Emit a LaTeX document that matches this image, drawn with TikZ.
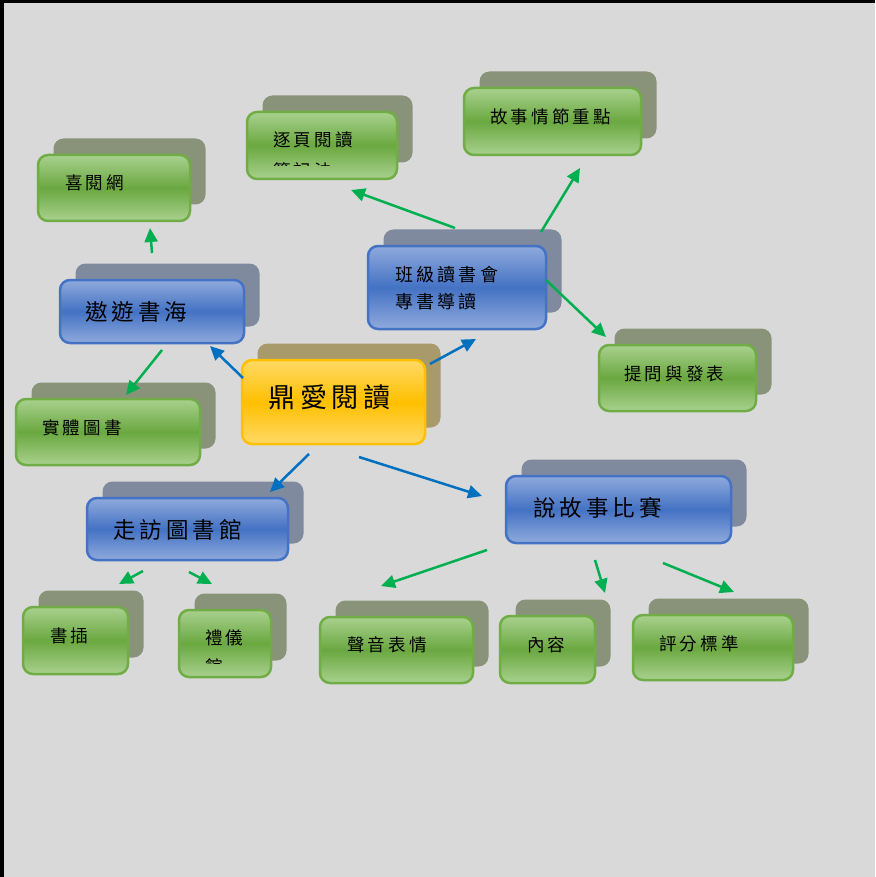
\documentclass[tikz,border=0pt]{standalone}
\usepackage{fontspec}
\usetikzlibrary{arrows.meta}
\newfontfamily\cjk[LetterSpace=18]{Noto Sans CJK TC}
\definecolor{bg}{HTML}{D9D9D9}
\definecolor{glight}{HTML}{A9D18E}
\definecolor{gdark}{HTML}{6AA840}
\definecolor{gborder}{HTML}{70AD47}
\definecolor{blight}{HTML}{8FAADC}
\definecolor{bdark}{HTML}{4472C4}
\definecolor{bborder}{HTML}{4472C4}
\definecolor{ylight}{HTML}{FFD966}
\definecolor{ydark}{HTML}{FFC000}
\definecolor{yborder}{HTML}{FFC000}
\definecolor{gshadow}{HTML}{88937A}
\definecolor{bshadow}{HTML}{7F8A9E}
\definecolor{yshadow}{HTML}{A89A6B}
\definecolor{garrow}{HTML}{00B050}
\definecolor{barrow}{HTML}{0070C0}
\tikzset{
  boxbase/.style={rounded corners=10pt, line width=2.5pt, inner sep=0pt},
  gbox/.style={boxbase, draw=gborder, top color=glight, bottom color=glight, middle color=gdark},
  bbox/.style={boxbase, draw=bborder, top color=blight, bottom color=blight, middle color=bdark},
  ybox/.style={boxbase, draw=yborder, top color=ylight, bottom color=ylight, middle color=ydark},
  gshad/.style={rounded corners=10pt, fill=gshadow, inner sep=0pt},
  bshad/.style={rounded corners=10pt, fill=bshadow, inner sep=0pt},
  yshad/.style={rounded corners=10pt, fill=yshadow, inner sep=0pt},
  small/.style={anchor=west, inner sep=0pt, font=\cjk\fontsize{17.5}{20}\selectfont},
  mid/.style={anchor=west, inner sep=0pt, font=\cjk\fontsize{18}{21}\selectfont},
  big/.style={anchor=west, inner sep=0pt, font=\cjk\fontsize{22.5}{26}\selectfont},
  huge/.style={anchor=west, inner sep=0pt, font=\cjk\fontsize{27}{30}\selectfont},
  garr/.style={draw=garrow, line width=2.5pt, -{Triangle[length=14pt,width=13pt]}},
  barr/.style={draw=barrow, line width=2.5pt, -{Triangle[length=14pt,width=13pt]}},
}
\newcommand\mkbox[6]{%
  \node[#2shad, minimum width={#5-#3}, minimum height={#6-#4}] (#1s) at ({(#3+#5)/2+15.5},{(#4+#6)/2-16.5}) {};
  \node[#2box, minimum width={#5-#3}, minimum height={#6-#4}] (#1) at ({(#3+#5)/2},{(#4+#6)/2}) {};
}
\begin{document}
\begin{tikzpicture}[x=1pt,y=-1pt]
\useasboundingbox (0,0) rectangle (875,877);
\fill[bg] (0,0) rectangle (875,877);
\fill[black] (0,0) rectangle (875,3);
\fill[black] (0,0) rectangle (4,877);

% boxes
\mkbox{hy}{g}{38}{155}{190}{221}
\mkbox{zy}{g}{247}{112}{397}{179}
\mkbox{gs}{g}{464}{88}{641}{155}
\mkbox{ay}{b}{60}{280}{244}{343}
\mkbox{bj}{b}{368}{246}{546}{329}
\mkbox{tw}{g}{599}{345}{756}{411}
\mkbox{st}{g}{16}{399}{200}{465}
\mkbox{da}{y}{242}{360}{425}{444}
\mkbox{zf}{b}{87}{498}{288}{560}
\mkbox{sg}{b}{506}{476}{731}{543}
\mkbox{sc}{g}{23}{607}{128}{674}
\mkbox{ly}{g}{179}{610}{271}{677}
\mkbox{sy}{g}{320}{617}{473}{683}
\mkbox{nr}{g}{500}{616}{595}{683}
\mkbox{pf}{g}{633}{615}{793}{680}

% texts
\node[small] (hyt) at (65,183) {喜閱網};
\node[small] (zyt) at (273,140) {逐頁閱讀};
\begin{scope}
  \clip (250,150) rectangle (395,166);
  \node[small] (zyt2) at (273,171) {筆記法};
\end{scope}
\node[small] (gst) at (490,117) {故事情節重點};
\node[big] (ayt) at (85,312) {遨遊書海};
\node[mid] (bjt) at (395,275) {班級讀書會};
\node[mid] (bjt2) at (395,302) {專書導讀};
\node[small] (twt) at (624,374) {提問與發表};
\node[small] (stt) at (42,428) {實體圖書};
\node[huge] (dat) at (268,397) {鼎愛閱讀};
\node[big] (zft) at (113,530) {走訪圖書館};
\node[big] (sgt) at (533,508) {說故事比賽};
\node[small] (sct) at (50,636) {書插};
\node[small] (lyt) at (205,638) {禮儀};
\begin{scope}
  \clip (182,650) rectangle (268,663);
  \node[small] (lyt2) at (205,667) {館};
\end{scope}
\node[small] (syt) at (347,645) {聲音表情};
\node[small] (nrt) at (527,645) {內容};
\node[small] (pft) at (659,644) {評分標準};

% arrow endpoints
\coordinate (a1s) at (152,253); \coordinate (a1e) at (150,228);
\coordinate (a2s) at (162,350); \coordinate (a2e) at (126,395);
\coordinate (a3s) at (455,228); \coordinate (a3e) at (351,190);
\coordinate (a4s) at (541,232); \coordinate (a4e) at (580,168);
\coordinate (a5s) at (546,280); \coordinate (a5e) at (606,337);
\coordinate (b1s) at (243,378); \coordinate (b1e) at (210,346);
\coordinate (b2s) at (430,364); \coordinate (b2e) at (476,339);
\coordinate (b3s) at (309,454); \coordinate (b3e) at (270,492);
\coordinate (b4s) at (359,457); \coordinate (b4e) at (482,496);
\coordinate (c1s) at (143,571); \coordinate (c1e) at (119,584);
\coordinate (c2s) at (189,572); \coordinate (c2e) at (212,584);
\coordinate (c3s) at (487,550); \coordinate (c3e) at (381,586);
\coordinate (c4s) at (595,560); \coordinate (c4e) at (605,593);
\coordinate (c5s) at (663,563); \coordinate (c5e) at (734,592);

\draw[garr] (a1s) -- (a1e);
\draw[garr] (a2s) -- (a2e);
\draw[garr] (a3s) -- (a3e);
\draw[garr] (a4s) -- (a4e);
\draw[garr] (a5s) -- (a5e);
\draw[barr] (b1s) -- (b1e);
\draw[barr] (b2s) -- (b2e);
\draw[barr] (b3s) -- (b3e);
\draw[barr] (b4s) -- (b4e);
\draw[garr] (c1s) -- (c1e);
\draw[garr] (c2s) -- (c2e);
\draw[garr] (c3s) -- (c3e);
\draw[garr] (c4s) -- (c4e);
\draw[garr] (c5s) -- (c5e);
\end{tikzpicture}
\end{document}
